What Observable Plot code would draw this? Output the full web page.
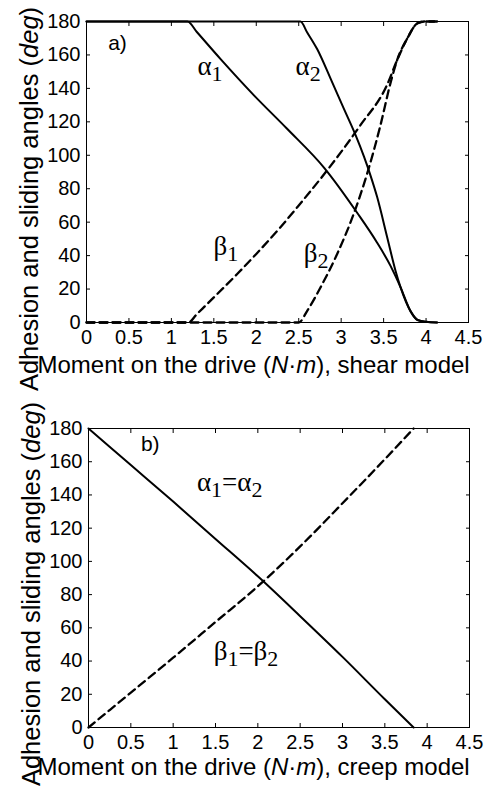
<!DOCTYPE html>
<html><head><meta charset="utf-8">
<script src="https://cdn.jsdelivr.net/npm/d3@7"></script>
<script src="https://cdn.jsdelivr.net/npm/@observablehq/plot@0.6"></script>
<style>
body{margin:0;background:#fff;}
#chart svg{display:block;}
</style></head><body><div id="chart"></div>
<script>
// ---- data ----
const xTicks = [0, 0.5, 1, 1.5, 2, 2.5, 3, 3.5, 4, 4.5];
const yTicks = [0, 20, 40, 60, 80, 100, 120, 140, 160, 180];

// panel a) shear model  [moment, angle]
const alpha1Shear = [[0,180],[1.19,180],[1.3,173.7],[1.58,157.5],[1.97,136],[2.36,116],[2.8,92.5],[3.19,65.5],[3.42,48],[3.58,34],[3.7,21],[3.82,6.5],[3.9,1.5],[4.0,0.4],[4.13,0]];
const alpha2Shear = [[0,180],[2.52,180],[2.6,173.4],[2.717,163.5],[2.874,146],[3.03,128],[3.17,112],[3.27,99],[3.345,88],[3.424,75],[3.542,51],[3.64,31],[3.7,21],[3.82,6.5],[3.9,1.5],[4.0,0.4],[4.13,0]];
const beta1Shear = [[0,0],[1.2,0],[1.3,5],[1.5,15],[1.775,29],[2.0,41],[2.285,57],[2.5,70],[2.835,91],[3.0,102],[3.227,118],[3.54,142],[3.66,157],[3.78,170],[3.9,179],[3.98,180],[4.13,180]];
const beta2Shear = [[0,0],[2.5,0],[2.6,7],[2.757,21],[2.953,41],[3.148,65],[3.306,89],[3.463,118],[3.58,143],[3.66,157],[3.78,170],[3.9,179],[3.98,180],[4.13,180]];

// panel b) creep model
const alphaCreep = [[0,180],[0.5,158],[1,136],[1.5,113.5],[2,91],[2.5,67],[3,42.5],[3.5,17],[3.84,0]];
const betaCreep = [[0,0],[0.5,21],[1,42],[1.5,63.5],[2,85],[2.5,109],[3,135],[3.5,161.5],[3.84,180]];

// annotations
const labelsShear = [
  {x: 1.307, y: 152.9, text: "α1"},
  {x: 2.462, y: 152.9, text: "α2"},
  {x: 1.496, y: 45.8, text: "β1"},
  {x: 2.56, y: 41.6, text: "β2"}
];
const labelsCreep = [
  {x: 1.281, y: 147.5, text: "α1=α2"},
  {x: 1.478, y: 46.1, text: "β1=β2"}
];
const tagShear = {x: 0.365, y: 166.9, text: "a)"};
const tagCreep = {x: 0.729, y: 170.4, text: "b)"};

const yTitle = "Adhesion and sliding angles (deg)";
const xTitleShear = "Moment on the drive (N·m), shear model";
const xTitleCreep = "Moment on the drive (N·m), creep model";

// rich text (subscripts / italics)
const RICH = {
  "α1": [{t:"α"},{t:"1",sub:true}],
  "α2": [{t:"α"},{t:"2",sub:true}],
  "β1": [{t:"β"},{t:"1",sub:true}],
  "β2": [{t:"β"},{t:"2",sub:true}],
  "α1=α2": [{t:"α"},{t:"1",sub:true},{t:"="},{t:"α"},{t:"2",sub:true}],
  "β1=β2": [{t:"β"},{t:"1",sub:true},{t:"="},{t:"β"},{t:"2",sub:true}],
  [yTitle]: [{t:"Adhesion and sliding angles ("},{t:"deg",it:true},{t:")"}],
  [xTitleShear]: [{t:"Moment on the drive ("},{t:"N",it:true},{t:"·"},{t:"m",it:true},{t:"), shear model"}],
  [xTitleCreep]: [{t:"Moment on the drive ("},{t:"N",it:true},{t:"·"},{t:"m",it:true},{t:"), creep model"}]
};

function richify(svg) {
  svg.querySelectorAll("text").forEach(t => {
    const parts = RICH[t.textContent];
    if (!parts) return;
    t.textContent = "";
    let shift = 0;
    for (const p of parts) {
      const ts = document.createElementNS("http://www.w3.org/2000/svg", "tspan");
      ts.textContent = p.t;
      const target = p.sub ? 6 : 0;
      if (target !== shift) { ts.setAttribute("dy", target - shift); shift = target; }
      if (p.sub) ts.setAttribute("font-size", 22);
      if (p.it) ts.setAttribute("font-style", "italic");
      t.appendChild(ts);
    }
  });
  return svg;
}

const SERIF = "'Liberation Serif', 'Times New Roman', serif";

function panel({solid, dashed, labels, tag, xTitle, height, mt, mb, ml, mr, yDy, xDx, xDy}) {
  const lineOpts = {x: d => d[0], y: d => d[1], stroke: "black", strokeWidth: 2, curve: "monotone-x"};
  const svg = Plot.plot({
    width: 489, height,
    marginTop: mt, marginBottom: mb, marginLeft: ml, marginRight: mr,
    style: {fontFamily: "'Liberation Sans', Arial, sans-serif", fontSize: "20px", color: "black", background: "white", overflow: "visible"},
    x: {domain: [0, 4.5]},
    y: {domain: [0, 180]},
    marks: [
      Plot.frame({stroke: "black", strokeWidth: 1}),
      Plot.axisX({ticks: xTicks, tickSize: 4, dy: -4, tickFormat: () => "", label: null}),
      Plot.axisX({anchor: "top", ticks: xTicks, tickSize: 4, dy: 4, tickFormat: () => "", label: null}),
      Plot.axisY({ticks: yTicks, tickSize: 4, dx: 4, tickFormat: () => "", label: null}),
      Plot.axisY({anchor: "right", ticks: yTicks, tickSize: 4, dx: -4, tickFormat: () => "", label: null}),
      Plot.axisX({ticks: xTicks, tickSize: 0, tickPadding: 7, tickFormat: d => String(d), label: null, fontSize: 20}),
      Plot.axisY({ticks: yTicks, tickSize: 0, tickPadding: 6, label: null, fontSize: 20}),
      ...solid.map(s => Plot.line(s, lineOpts)),
      ...dashed.map(s => Plot.line(s, {...lineOpts, strokeWidth: 2.3, strokeDasharray: "8,5"})),
      Plot.text(labels, {x: "x", y: "y", text: "text", textAnchor: "start", fontFamily: SERIF, fontSize: 27, fill: "black"}),
      Plot.text([tag], {x: "x", y: "y", text: "text", fontSize: 21, fill: "black"}),
      Plot.text([yTitle], {frameAnchor: "left", text: d => d, rotate: -90, textAnchor: "middle", lineAnchor: "middle", dx: -57, dy: yDy, fontSize: 25.5, fill: "black"}),
      Plot.text([xTitle], {frameAnchor: "bottom-left", text: d => d, textAnchor: "start", lineAnchor: "middle", dx: xDx, dy: xDy, fontSize: 24, fill: "black"})
    ]
  });
  return richify(svg);
}

const chart = document.getElementById("chart");
chart.appendChild(panel({
  solid: [alpha1Shear, alpha2Shear], dashed: [beta1Shear, beta2Shear],
  labels: labelsShear, tag: tagShear, xTitle: xTitleShear,
  height: 385, mt: 21, mb: 63, ml: 86, mr: 21, yDy: 27, xDx: -49, xDy: 43
}));
chart.appendChild(panel({
  solid: [alphaCreep], dashed: [betaCreep],
  labels: labelsCreep, tag: tagCreep, xTitle: xTitleCreep,
  height: 401, mt: 43, mb: 59, ml: 88, mr: 20, yDy: 16, xDx: -51, xDy: 40
}));
</script></body></html>
